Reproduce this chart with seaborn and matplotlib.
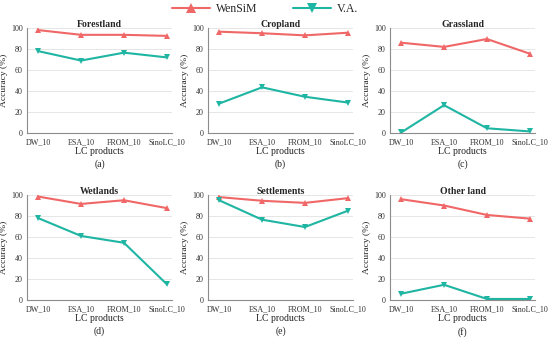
import matplotlib
matplotlib.use("Agg")
import matplotlib.pyplot as plt
import seaborn as sns
import pandas as pd
from matplotlib.lines import Line2D

# --- data ---
products = ["DW_10", "ESA_10", "FROM_10", "SinoLC_10"]
panels = ["Forestland", "Cropland", "Grassland", "Wetlands", "Settlements", "Other land"]
letters = ["(a)", "(b)", "(c)", "(d)", "(e)", "(f)"]

wensim = {
    "Forestland": [98, 93.5, 93.5, 92.5],
    "Cropland": [96.5, 95, 93, 95.5],
    "Grassland": [86, 82, 89.5, 75.5],
    "Wetlands": [98.5, 91.5, 95, 87.5],
    "Settlements": [98, 94.5, 92.5, 97],
    "Other land": [96, 90, 81, 77.5],
}
va = {
    "Forestland": [78, 69, 76.5, 72],
    "Cropland": [28, 43.5, 34.5, 29],
    "Grassland": [0.5, 26.5, 4.5, 1.5],
    "Wetlands": [78, 61, 54.5, 15],
    "Settlements": [95, 76.5, 69.5, 85],
    "Other land": [6, 14.5, 1, 1],
}

series_names = ["WenSiM", "V.A."]
colors = {"WenSiM": "#F06767", "V.A.": "#1FB5A3"}
markers = {"WenSiM": "^", "V.A.": "v"}

rows = []
for p in panels:
    for i, prod in enumerate(products):
        rows.append({"panel": p, "product": prod, "series": "WenSiM", "acc": wensim[p][i]})
        rows.append({"panel": p, "product": prod, "series": "V.A.", "acc": va[p][i]})
df = pd.DataFrame(rows)

sns.set_style("white")
plt.rcParams["font.family"] = ["Liberation Serif", "DejaVu Serif"]

fig = plt.figure(figsize=(5.5, 3.4), dpi=100)
W, H = 550, 340
lefts = [27, 208, 390]
tops = [28, 195]
aw, ah = 145, 105

for k, p in enumerate(panels):
    r, c = divmod(k, 3)
    ax = fig.add_axes([lefts[c] / W, 1 - (tops[r] + ah) / H, aw / W, ah / H])
    sub = df[df["panel"] == p]
    sns.lineplot(data=sub, x="product", y="acc", hue="series", style="series",
                 hue_order=series_names, style_order=series_names,
                 palette=colors, markers=markers, dashes=False,
                 markersize=5, markeredgewidth=0, linewidth=1.5,
                 legend=False, ax=ax)
    ax.set_ylim(0, 100)
    ax.set_xlim(-0.26, 3.12)
    ax.set_yticks([0, 20, 40, 60, 80, 100])
    ax.yaxis.grid(True, color="#E6E6E6", linewidth=0.7)
    ax.set_axisbelow(True)
    for s in ["top", "right"]:
        ax.spines[s].set_visible(False)
    for s in ["left", "bottom"]:
        ax.spines[s].set_color("#8C8C8C")
        ax.spines[s].set_linewidth(0.8)
    ax.tick_params(axis="both", labelsize=5.8, colors="#333333", length=2, width=0.6, pad=2)
    ax.tick_params(axis="y", length=0, pad=3)
    ax.set_xlabel("LC products", fontsize=7, labelpad=0, color="#222222")
    ax.set_ylabel("Accuracy (%)", fontsize=6.8, labelpad=2, color="#222222")
    ax.set_title(p, fontsize=7, fontweight="bold", pad=1)
    ax.text(0.5, -0.255, letters[k], transform=ax.transAxes, ha="center", va="top",
            fontsize=7, color="#222222")

handles = [Line2D([0], [0], color=colors[s], marker=markers[s], markersize=7,
                  markeredgewidth=0, linewidth=1.5) for s in series_names]
fig.legend(handles, series_names, loc="center", bbox_to_anchor=(265 / W, 1 - 9 / H),
           ncol=2, frameon=False, fontsize=8.5, handlelength=3.2, columnspacing=3,
           handletextpad=0.5)

fig.savefig("out.png", dpi=100)
